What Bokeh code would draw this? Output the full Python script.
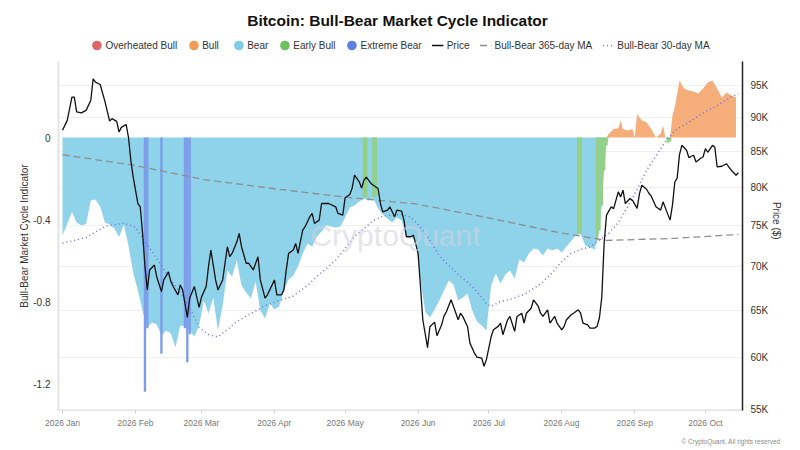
import numpy as np
import pandas as pd
from bokeh.plotting import figure
from bokeh.models import (Range1d, LogScale, LogAxis, FixedTicker, CustomJSTickFormatter,
                          DatetimeTickFormatter, MonthsTicker, Legend, LegendItem, Label, Title)
from bokeh.embed import file_html
from bokeh.resources import INLINE

FONT = "Liberation Sans"
START = "2026-01-01"

# ---------------- data ----------------
# Bull-Bear Market Cycle Indicator (days since 2026-01-01)
ind_day = [0, 2, 4, 6, 8, 10, 12, 14, 16, 18, 20, 22, 24, 26, 28, 30, 32, 34, 36, 38,
           40, 42, 44, 46, 48, 50, 52, 54, 56, 58, 60, 62, 64, 66, 68, 70, 72, 74, 76, 78,
           80, 82, 84, 86, 88, 90, 92, 94, 96, 98, 100, 102, 104, 106, 108, 110, 112, 114, 116, 118,
           120, 122, 124, 126, 128, 130, 132, 134, 136, 138, 140, 142, 144, 146, 148, 150, 152, 154, 156, 158,
           160, 162, 164, 166, 168, 170, 172, 174, 176, 178, 180, 182, 184, 186, 188, 190, 192, 194, 196, 198,
           200, 202, 204, 206, 208, 210, 212, 214, 216, 218, 220, 222, 224, 226, 227, 228, 229, 230, 231,
           232, 234, 236, 237, 238, 240, 242, 243, 244, 246, 248, 250, 252, 254, 255, 256, 257, 258, 259,
           260, 262, 264, 266, 268, 270, 272, 274, 276, 278, 280, 282, 284, 286]
ind_val = [-0.478, -0.421, -0.364, -0.415, -0.429, -0.422, -0.307, -0.302, -0.337, -0.415,
           -0.424, -0.444, -0.486, -0.424, -0.527, -0.659, -0.746, -0.845, -0.925, -0.902,
           -0.912, -0.966, -0.941, -0.956, -1.023, -0.917, -0.922, -0.941, -0.971, -0.917,
           -0.795, -0.859, -0.780, -0.941, -0.820, -0.649, -0.678, -0.600, -0.722, -0.756,
           -0.785, -0.702, -0.844, -0.883, -0.810, -0.839, -0.824, -0.746, -0.693, -0.673,
           -0.629, -0.566, -0.517, -0.532, -0.483, -0.459, -0.429, -0.434, -0.439, -0.434,
           -0.390, -0.341, -0.332, -0.312, -0.298, -0.307, -0.298, -0.346, -0.376, -0.395,
           -0.415, -0.390, -0.405, -0.486, -0.483, -0.507, -0.698, -0.849, -0.878, -0.839,
           -0.795, -0.746, -0.698, -0.717, -0.795, -0.780, -0.761, -0.844, -0.898, -0.917,
           -0.941, -0.722, -0.663, -0.712, -0.668, -0.649, -0.688, -0.595, -0.610, -0.566,
           -0.541, -0.546, -0.576, -0.541, -0.551, -0.541, -0.561, -0.532, -0.505, -0.478,
           -0.470, -0.527, -0.537, -0.546, -0.502, -0.454, -0.332, -0.161, -0.039,
           0.018, 0.042, 0.045, 0.083, 0.040, 0.034, 0.042, 0.000, 0.115, 0.083, 0.075, 0.042,
           0.000, 0.018, 0.058, 0.000, -0.020, -0.010, 0.107,
           0.148, 0.278, 0.238, 0.229, 0.224, 0.215, 0.239, 0.268, 0.278, 0.239, 0.195, 0.220, 0.205, 0.195]

# Days coloured "Extreme Bear" and "Early Bull"
xbear_day = [35, 36, 42, 52, 53, 54]
xbear_val = [-1.24, -0.93, -1.055, -0.93, -1.096, -0.96]
ebull_day = [128, 129, 132, 133, 219, 220, 227, 228, 229, 230, 231, 257, 258]
ebull_val = [-0.29, -0.29, -0.29, -0.29, -0.47, -0.47, -0.502, -0.454, -0.332, -0.161, -0.039, -0.025, -0.02]

# Bull-Bear 365-day MA
ma365_day = [0, 30, 60, 90, 120, 150, 180, 210, 231, 260, 287]
ma365_val = [-0.084, -0.135, -0.205, -0.250, -0.291, -0.324, -0.390, -0.462, -0.502, -0.492, -0.473]

# Bull-Bear 30-day MA
ma30_day = [0, 10, 18, 26, 31, 35, 40, 44, 49, 54, 58, 62, 66, 70, 74, 80, 86, 92, 98, 104,
            108, 112, 116, 120, 124, 128, 132, 136, 140, 144, 148, 152, 156, 160, 164, 168, 172, 176, 180, 182,
            186, 190, 196, 200, 204, 208, 212, 216, 220, 224, 228, 232, 236, 240, 244, 248, 252, 256, 260, 266,
            272, 278, 284, 287]
ma30_val = [-0.516, -0.488, -0.434, -0.417, -0.438, -0.507, -0.590, -0.661, -0.741, -0.829,
            -0.927, -0.961, -0.973, -0.937, -0.898, -0.859, -0.820, -0.795, -0.773, -0.722,
            -0.678, -0.639, -0.598, -0.541, -0.483, -0.444, -0.405, -0.385, -0.378, -0.376,
            -0.390, -0.437, -0.502, -0.576, -0.624, -0.668, -0.707, -0.751, -0.810, -0.824,
            -0.800, -0.790, -0.766, -0.737, -0.705, -0.659, -0.605, -0.566, -0.546, -0.534,
            -0.500, -0.468, -0.415, -0.337, -0.254, -0.161, -0.090, -0.020, 0.034, 0.075,
            0.120, 0.156, 0.198, 0.213]

# Bitcoin price (USD)
price_day = [0, 2, 4, 5, 6, 8, 10, 12, 13, 14, 16, 18, 20, 21, 23, 24, 25, 27, 28, 29,
             30, 32, 33, 34, 35, 36, 37, 39, 40, 42, 43, 45, 46, 47, 49, 50, 51, 53, 54, 56,
             58, 59, 61, 62, 63, 65, 66, 68, 69, 70, 71, 72, 74, 75, 76, 78, 79, 81, 83, 84,
             86, 87, 88, 90, 91, 93, 94, 95, 96, 98, 99, 100, 102, 103, 105, 106, 107, 109, 110, 113,
             116, 117, 119, 120, 122, 123, 124, 126, 127, 128, 129, 131, 132, 134, 135, 136, 138, 139, 141, 142,
             144, 145, 146, 148, 149, 151, 152, 153, 155, 156, 158, 159, 161, 162, 163, 165, 166, 168, 169, 170,
             172, 173, 175, 176, 178, 179, 180, 182, 183, 185, 186, 187, 189, 190, 192, 193, 195, 196, 197, 199,
             200, 202, 203, 204, 206, 207, 209, 210, 212, 213, 214, 216, 217, 219, 220, 221, 223, 224, 226, 227,
             228, 229, 230, 231, 233, 234, 236, 237, 238, 239, 241, 242, 244, 245, 246, 248, 249, 250, 252, 254,
             255, 257, 258, 259, 260, 261, 262, 263, 265, 266, 267, 268, 269, 271, 272, 273, 274, 276, 277, 278,
             280, 282, 283, 284, 286, 287]
price_usd = [88080, 89570, 93140, 93140, 90870, 90720, 91090, 92630, 96080, 95530,
             95160, 92480, 89470, 89840, 89420, 87830, 88520, 88950, 87090, 83740,
             81430, 77850, 77420, 74030, 70020, 67300, 69600, 70180, 68810, 67110,
             68440, 69370, 68250, 67680, 66740, 67860, 67300, 64250, 66370, 67680,
             65330, 66480, 67680, 70020, 71970, 68440, 67300, 68440, 70390, 72380,
             71170, 71570, 72950, 74030, 72380, 70390, 70390, 69600, 71170, 68440,
             66370, 66740, 67300, 68440, 66740, 66740, 67300, 69600, 71570, 71970,
             72780, 71570, 74440, 74860, 76130, 76560, 75280, 75700, 77850, 77850,
             77420, 76560, 76340, 78600, 79040, 79920, 81660, 80760, 79920, 80970,
             81410, 80530, 80290, 79850, 77850, 76760, 76990, 77420, 76130, 76990,
             76860, 75700, 73610, 73610, 73820, 71570, 67680, 63990, 61050, 63240,
             63740, 62300, 63450, 64420, 64850, 66180, 65470, 63990, 64700, 64330,
             63240, 61520, 60460, 60090, 59990, 59160, 59830, 62180, 62920, 63280,
             63640, 62400, 63990, 64350, 62750, 64350, 64700, 63640, 64700, 65250,
             66180, 65470, 64700, 64350, 65070, 63640, 64350, 63640, 62920, 63280,
             63990, 64530, 64700, 65070, 64700, 63640, 63450, 63100, 63100, 63280,
             64210, 66480, 72830, 76340, 77420, 77160, 79400, 78730, 79620, 77850,
             78510, 78290, 77210, 79170, 80290, 79750, 79210, 78820, 77420, 76990,
             78070, 76470, 75700, 77640, 80700, 81250, 84550, 85880, 85160, 84100,
             84310, 84450, 83500, 84020, 84200, 85400, 84880, 85880, 85590, 82800,
             82900, 83250, 82760, 82350, 81660, 82000]

left_ticks = [0, -0.4, -0.8, -1.2]
price_ticks = [55000, 60000, 65000, 70000, 75000, 80000, 85000, 90000, 95000]
regimes = ["Overheated Bull", "Bull", "Bear", "Early Bull", "Extreme Bear"]
regime_colors = ["#e06666", "#f39a57", "#7dcbe6", "#6fc05e", "#5c7fe6"]
regime_fills = {"Bull": "#f5ae7a", "Bear": "#8fd3ea", "Early Bull": "#93d07f", "Extreme Bear": "#7d9cea"}

# ---------------- helpers ----------------
base = pd.Timestamp(START)


def to_dates(days):
    return (np.datetime64(START) + np.array(days, dtype="timedelta64[D]")).astype("datetime64[ms]")


DAY_MS = 24 * 3600 * 1000
NBSP = "\u00a0"

# axis extents (value range covered by each y axis) and the headroom above them for title + legend
IND_LO, IND_HI = -1.3317, 0.3707
PRICE_LO, PRICE_HI = 54910, 98920
IND_TOP = 0.6683        # top of drawing area, indicator units
PRICE_TOP = 109640      # top of drawing area, price units (log scale)

p = figure(width=800, height=450, x_axis_type="datetime", title=None,
           x_range=Range1d(start=base - pd.Timedelta(hours=41), end=base + pd.Timedelta(hours=288 * 24 + 18)),
           y_range=Range1d(IND_LO, IND_TOP),
           output_backend="svg", toolbar_location=None,
           min_border_left=58, min_border_right=58, min_border_top=0, min_border_bottom=40)

p.extra_y_ranges = {"price": Range1d(PRICE_LO, PRICE_TOP)}
p.extra_y_scales = {"price": LogScale()}
p.outline_line_color = None
p.background_fill_color = "white"
p.xgrid.visible = False
p.ygrid.visible = False

# faint horizontal grid on price ticks
p.hspan(y=price_ticks, y_range_name="price", line_color="#efefef", line_width=1, level="underlay")

# indicator areas
vals = np.array(ind_val)
dates_ind = to_dates(ind_day)
p.varea(x=dates_ind, y1=0, y2=np.minimum(vals, 0), fill_color=regime_fills["Bear"])
p.varea(x=dates_ind, y1=0, y2=np.maximum(vals, 0), fill_color=regime_fills["Bull"])
p.vbar(x=to_dates(ebull_day), width=DAY_MS, top=0, bottom=ebull_val,
       fill_color=regime_fills["Early Bull"], line_color=None)
p.vbar(x=to_dates(xbear_day), width=DAY_MS, top=0, bottom=xbear_val,
       fill_color=regime_fills["Extreme Bear"], line_color=None)

# watermark
p.add_layout(Label(x=337, y=175, x_units="screen", y_units="screen", text="CryptoQuant",
                   text_align="center", text_baseline="middle", text_font=FONT,
                   text_font_size="30px", text_color="#d2d2de", text_alpha=0.6))

# moving averages and price
r365 = p.line(to_dates(ma365_day), ma365_val, line_color="#8e8e8e", line_dash="7 4", line_width=1.3)
r30 = p.line(to_dates(ma30_day), ma30_val, line_color="#6f6fe0", line_dash="1 3", line_width=1.5)
rprice = p.line(to_dates(price_day), price_usd, y_range_name="price", line_color="#111111", line_width=1.3)

# legend swatches for the regimes (round swatches, nothing drawn in the plot area)
regime_rs = [p.ellipse(x=[np.nan], y=[np.nan], width=10, height=10, width_units="screen",
                       height_units="screen", fill_color=c, line_color=None) for c in regime_colors]

items = [LegendItem(label=n, renderers=[r]) for n, r in zip(regimes, regime_rs)]
items += [LegendItem(label="Price", renderers=[rprice]),
          LegendItem(label="Bull-Bear 365-day MA", renderers=[r365]),
          LegendItem(label="Bull-Bear 30-day MA", renderers=[r30])]
leg = Legend(items=items, orientation="horizontal", location="top_center",
             glyph_width=12, glyph_height=12, label_height=12,
             label_standoff=3, spacing=10, padding=0, margin=39,
             border_line_color=None, background_fill_alpha=0,
             label_text_font=FONT, label_text_font_size="10px", label_text_color="#333333")
p.add_layout(leg)

# title
p.add_layout(Label(x=339, y=390, x_units="screen", y_units="screen",
                   text="Bitcoin: Bull-Bear Market Cycle Indicator", text_align="center",
                   text_baseline="middle", text_font=FONT, text_font_size="15.5px",
                   text_font_style="bold", text_color="#111111"))

# credit line
p.add_layout(Title(text="\u00a9 CryptoQuant. All rights reserved", align="right", offset=-38,
                   text_font=FONT, text_font_size="6.5px", text_font_style="normal",
                   text_color="#8a8a8a"), "below")

# left axis (label padded so that it is centred on the axis extent, not the whole area)
yax = p.yaxis[0]
yax.bounds = (IND_LO, IND_HI)
yax.ticker = FixedTicker(ticks=left_ticks)
yax.formatter = CustomJSTickFormatter(code="return tick == 0 ? '0' : tick.toFixed(1);")
yax.axis_label = "Bull-Bear Market Cycle Indicator" + NBSP * 22
yax.axis_label_text_font = FONT
yax.axis_label_text_font_size = "10px"
yax.axis_label_text_font_style = "normal"
yax.axis_label_text_color = "#333333"
yax.axis_label_standoff = 0
yax.major_label_text_font = FONT
yax.major_label_text_font_size = "10px"
yax.major_label_text_color = "#333333"
yax.major_label_standoff = 8
yax.major_tick_out = 0
yax.major_tick_in = 0
yax.axis_line_color = "#e3e3e3"
yax.axis_line_width = 2
yax.major_tick_line_color = None
yax.minor_tick_line_color = None

# right (price, log) axis
rax = LogAxis(y_range_name="price", ticker=FixedTicker(ticks=price_ticks),
              formatter=CustomJSTickFormatter(code="return (tick/1000).toFixed(0) + 'K';"),
              axis_label=NBSP * 11 + "Price ($)", bounds=(PRICE_LO, PRICE_HI))
rax.axis_label_text_font = FONT
rax.axis_label_text_font_size = "10px"
rax.axis_label_text_font_style = "normal"
rax.axis_label_text_color = "#333333"
rax.axis_label_standoff = 0
rax.major_label_text_font = FONT
rax.major_label_text_font_size = "10px"
rax.major_label_text_color = "#333333"
rax.major_label_standoff = 8
rax.major_tick_out = 0
rax.major_tick_in = 0
rax.axis_line_color = "#222222"
rax.axis_line_width = 1.5
rax.major_tick_line_color = None
rax.minor_tick_line_color = None
p.add_layout(rax, "right")

# bottom axis
xax = p.xaxis[0]
xax.ticker = MonthsTicker(months=list(range(12)))
fmt = "%Y %b"
xax.formatter = DatetimeTickFormatter(days=fmt, months=fmt, years=fmt, hours=fmt)
xax.major_label_text_font = FONT
xax.major_label_text_font_size = "8.5px"
xax.major_label_text_color = "#777777"
xax.major_label_standoff = 4
xax.axis_line_color = "#e3e3e3"
xax.major_tick_line_color = "#cccccc"
xax.major_tick_in = 0
xax.major_tick_out = 3
xax.minor_tick_line_color = None

open("out.html", "w").write(file_html(p, INLINE))
